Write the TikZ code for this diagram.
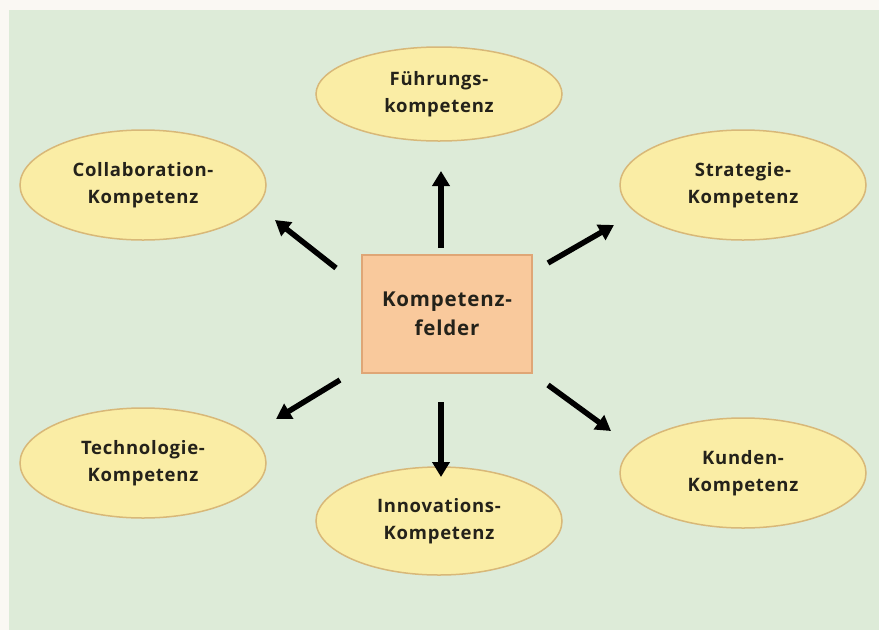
\documentclass[tikz,border=0pt]{standalone}
\usepackage{fontspec}
\setmainfont{Open Sans}
\newfontfamily\spacedfont[LetterSpace=4]{Open Sans}
\usetikzlibrary{shapes.geometric,arrows.meta}
\definecolor{bgwhite}{HTML}{FAF8F3}
\definecolor{bggreen}{HTML}{DDEBD8}
\definecolor{ellfill}{HTML}{FAEDA5}
\definecolor{elldraw}{HTML}{D8B878}
\definecolor{boxfill}{HTML}{F9C99C}
\definecolor{boxdraw}{HTML}{DFA676}
\definecolor{txt}{HTML}{24221A}
\tikzset{
  field/.style={ellipse, draw=elldraw, fill=ellfill, line width=1.5pt,
    minimum width=246pt, minimum height=108pt, inner sep=0pt,
    align=center, text=txt, font=\spacedfont\fontsize{18.5}{27}\selectfont\bfseries},
  centerbox/.style={rectangle, draw=boxdraw, fill=boxfill, line width=1.2pt,
    minimum width=170pt, minimum height=118pt, align=center, text=txt,
    font=\spacedfont\fontsize{20.5}{29}\selectfont\bfseries},
  bigarrow/.style={line width=5.5pt, black, -{Triangle[width=17pt,length=15pt]}}
}
\begin{document}
\begin{tikzpicture}[x=1pt,y=-1pt]
\fill[bgwhite] (0,0) rectangle (879,630);
\fill[bggreen] (9,10) rectangle (879,630);
\useasboundingbox (0,0) rectangle (879,630);

\node[centerbox] (center) at (447,314) {Kompetenz-\\felder};

\node[field, minimum height=94pt] (fuehrung) at (439,94) {Führungs-\\kompetenz};
\node[field, minimum height=110pt] (collab) at (143,185) {Collaboration-\\Kompetenz};
\node[field, minimum height=110pt] (strategie) at (743,185) {Strategie-\\Kompetenz};
\node[field, minimum height=110pt] (techno) at (143,463) {Technologie-\\Kompetenz};
\node[field, minimum height=110pt] (kunden) at (743,473) {Kunden-\\Kompetenz};
\node[field, minimum height=108pt] (innov) at (439,521) {Innovations-\\Kompetenz};

\coordinate (s1) at (441,248); \coordinate (e1) at (441,171);
\coordinate (s2) at (336,268); \coordinate (e2) at (275,220);
\coordinate (s3) at (548,263); \coordinate (e3) at (614,225);
\coordinate (s4) at (340,380); \coordinate (e4) at (276,419);
\coordinate (s5) at (441,402); \coordinate (e5) at (441,477);
\coordinate (s6) at (548,385); \coordinate (e6) at (611,431);

\draw[bigarrow] (s1) -- (e1);
\draw[bigarrow] (s2) -- (e2);
\draw[bigarrow] (s3) -- (e3);
\draw[bigarrow] (s4) -- (e4);
\draw[bigarrow] (s5) -- (e5);
\draw[bigarrow] (s6) -- (e6);
\end{tikzpicture}
\end{document}
